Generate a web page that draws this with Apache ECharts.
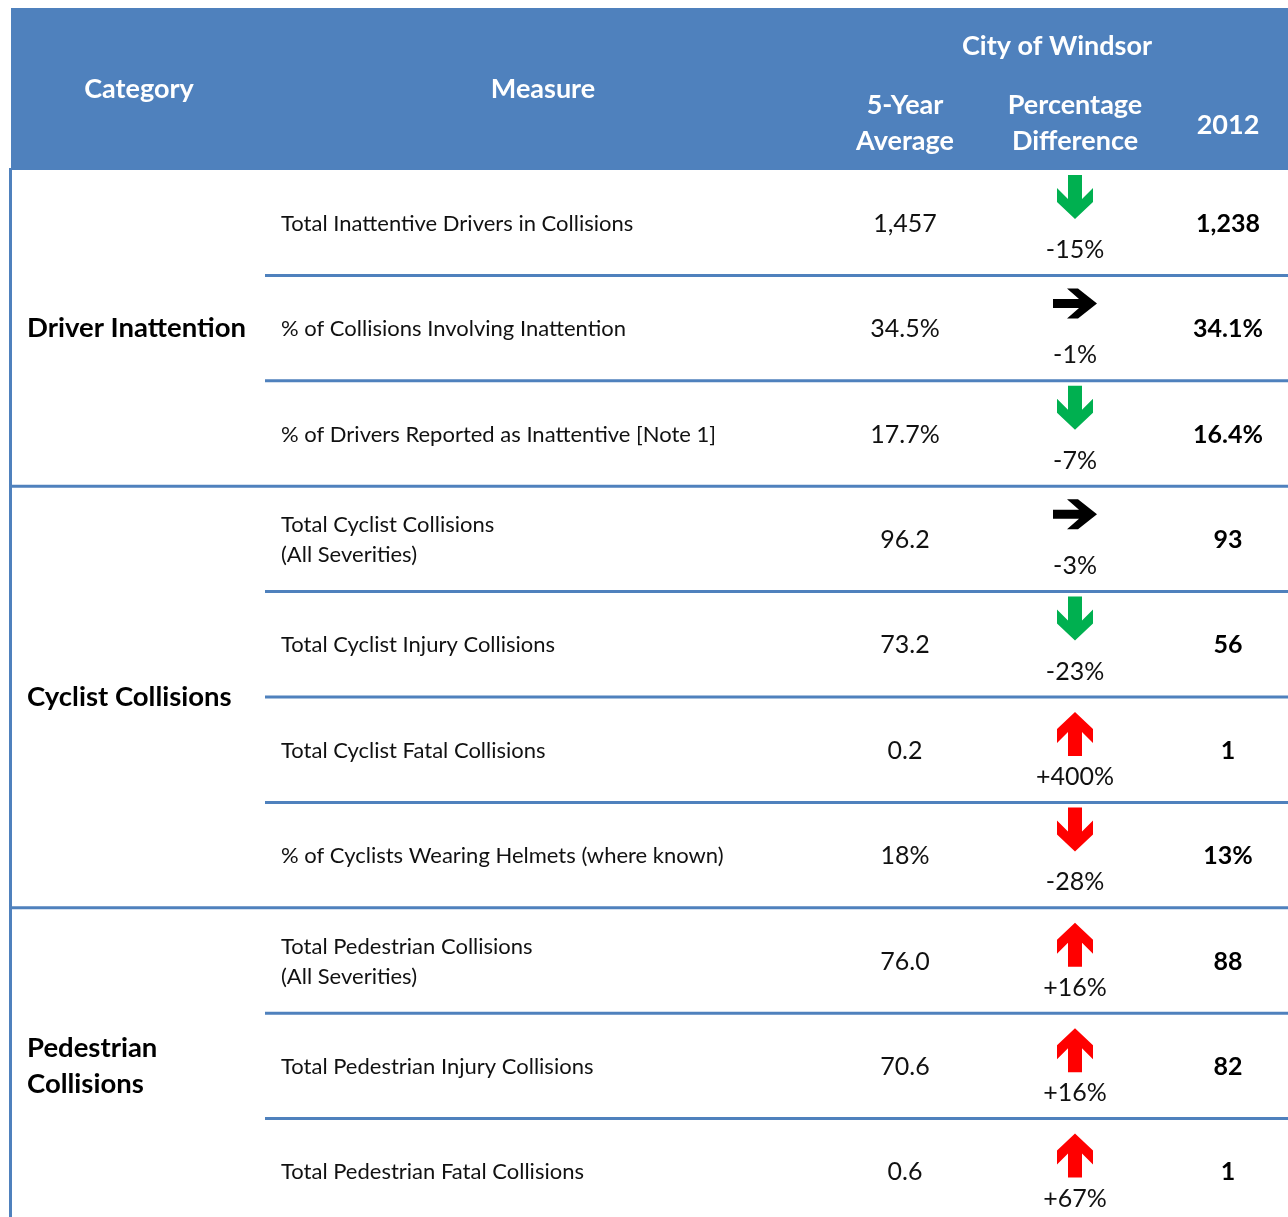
<!DOCTYPE html>
<html>
<head>
<meta charset="utf-8">
<script src="https://cdn.jsdelivr.net/npm/echarts@6/dist/echarts.min.js"></script>
<style>
  html, body { margin: 0; padding: 0; background: #fff; }
  #chart { width: 1288px; height: 1217px; }
</style>
</head>
<body>
<div id="chart"></div>
<script>
// ---------------- DATA ----------------
const categories = ['Driver Inattention', 'Cyclist Collisions', 'Pedestrian\nCollisions'];
const categoryRowCounts = [3, 4, 3];
const measures = [
  'Total Inattentive Drivers in Collisions',
  '% of Collisions Involving Inattention',
  '% of Drivers Reported as Inattentive [Note 1]',
  'Total Cyclist Collisions\n(All Severities)',
  'Total Cyclist Injury Collisions',
  'Total Cyclist Fatal Collisions',
  '% of Cyclists Wearing Helmets (where known)',
  'Total Pedestrian Collisions\n(All Severities)',
  'Total Pedestrian Injury Collisions',
  'Total Pedestrian Fatal Collisions'
];
const fiveYearAverage = [1457, 34.5, 17.7, 96.2, 73.2, 0.2, 18, 76.0, 70.6, 0.6];
const fiveYearDecimals = [0, 1, 1, 1, 1, 1, 0, 1, 1, 1];
const value2012 = [1238, 34.1, 16.4, 93, 56, 1, 13, 88, 82, 1];
const value2012Decimals = [0, 1, 1, 0, 0, 0, 0, 0, 0, 0];
const isPercentMeasure = [false, true, true, false, false, false, true, false, false, false];
const percentDifference = [-15, -1, -7, -3, -23, 400, -28, 16, 16, 67];
const higherIsBetter = [false, false, false, false, false, false, true, false, false, false];
const headerTitle = 'City of Windsor';
const columnHeaders = ['Category', 'Measure', '5-Year\nAverage', 'Percentage\nDifference', '2012'];

// ---------------- HELPERS ----------------
const FONT = 'Lato, "Noto Sans", sans-serif';
const BLUE = '#4F81BD';
const TABLE_TOP = 170, ROW_H = 105.4, CANVAS_H = 1217;
function fmt(v, dec, pct) {
  const s = v.toLocaleString('en-US', { minimumFractionDigits: dec, maximumFractionDigits: dec });
  return pct ? s + '%' : s;
}
function fmtDiff(v) { return (v > 0 ? '+' : '') + v + '%'; }
function trendOf(i) {
  const d = percentDifference[i];
  if (Math.abs(d) <= 3) return { dir: 'flat', color: '#000000' };
  const better = higherIsBetter[i] ? d > 0 : d < 0;
  return { dir: d > 0 ? 'up' : 'down', color: better ? '#00B050' : '#FF0000' };
}
const groups = [];
let acc = 0;
categoryRowCounts.forEach((n, g) => { groups.push([acc, acc + n, g]); acc += n; });
const lastRowOfGroup = new Set(groups.map(g => g[1] - 1));

const rowData = measures.map((m, i) => [0, i]);
const groupData = groups.map(g => [0, g[0], g[1], g[2]]);

const COL = { catX: 27, measX: 281, avgX: 905, pctX: 1075, y12X: 1228, sepFrom: 265, left: 10.5, right: 1288 };

function arrowShape(dir, cx, top) {
  const base = [[-7,0],[7,0],[7,24],[18,13],[18,27],[0,44],[-18,27],[-18,13],[-7,24]];
  if (dir === 'down') return base.map(p => [cx + p[0], top + 5 + p[1]]);
  if (dir === 'up') return base.map(p => [cx + p[0], top + 15 + 44 - p[1]]);
  const cy = top + 28;
  return [[-22,-4.5],[4,-4.5],[-8,-15],[3,-15],[22,0],[3,15],[-8,15],[4,4.5],[-22,4.5]].map(p => [cx + p[0], cy + p[1]]);
}

function renderRow(params, api) {
  const i = api.value(1);
  const top = api.coord([0, i])[1];
  const bottom = api.coord([0, i + 1])[1];
  const mid = (top + bottom) / 2;
  const x = v => api.coord([v, i])[0];
  const t = trendOf(i);
  const children = [
    { type: 'text', style: { x: x(COL.measX), y: mid + 1, text: measures[i], textAlign: 'left', textVerticalAlign: 'middle',
        font: '22px ' + FONT, fill: '#111', lineHeight: 30 } },
    { type: 'text', style: { x: x(COL.avgX), y: mid + 1, text: fmt(fiveYearAverage[i], fiveYearDecimals[i], isPercentMeasure[i]),
        textAlign: 'center', textVerticalAlign: 'middle', font: '25px ' + FONT, fill: '#111' } },
    { type: 'polygon', shape: { points: arrowShape(t.dir, x(COL.pctX), top) }, style: { fill: t.color } },
    { type: 'text', style: { x: x(COL.pctX), y: top + 80, text: fmtDiff(percentDifference[i]),
        textAlign: 'center', textVerticalAlign: 'middle', font: '25px ' + FONT, fill: '#111' } },
    { type: 'text', style: { x: x(COL.y12X), y: mid + 1, text: fmt(value2012[i], value2012Decimals[i], isPercentMeasure[i]),
        textAlign: 'center', textVerticalAlign: 'middle', font: 'bold 25px ' + FONT, fill: '#000' } }
  ];
  if (i < measures.length - 1) {
    const from = lastRowOfGroup.has(i) ? COL.left : COL.sepFrom;
    children.push({ type: 'line', shape: { x1: x(from), y1: bottom, x2: x(COL.right), y2: bottom },
      style: { stroke: BLUE, lineWidth: 3 } });
  }
  return { type: 'group', children };
}

function renderGroup(params, api) {
  const s = api.value(1), e = api.value(2), g = api.value(3);
  const top = api.coord([0, s])[1];
  const bottom = api.coord([0, e])[1];
  return { type: 'group', children: [
    { type: 'text', style: { x: api.coord([COL.catX, s])[0], y: (top + bottom) / 2, text: categories[g],
        textAlign: 'left', textVerticalAlign: 'middle', font: 'bold 27.5px ' + FONT, fill: '#000', lineHeight: 36 } },
    { type: 'line', shape: { x1: api.coord([COL.left, s])[0], y1: top - 2, x2: api.coord([COL.left, s])[0], y2: bottom },
        style: { stroke: BLUE, lineWidth: 3 } }
  ]};
}

const chart = echarts.init(document.getElementById('chart'), null, { renderer: 'canvas' });
const headerTextStyle = { fill: '#fff', font: 'bold 27px ' + FONT, textAlign: 'center', textVerticalAlign: 'middle', lineHeight: 36 };
const gridH = CANVAS_H - TABLE_TOP;
chart.setOption({
  animation: false,
  grid: { left: 0, top: TABLE_TOP, width: 1288, height: gridH },
  xAxis: { type: 'value', min: 0, max: 1288, show: false },
  yAxis: { type: 'value', min: 0, max: gridH / ROW_H, inverse: true, show: false },
  graphic: [
    { type: 'rect', left: 11, top: 8, shape: { width: 1277, height: 162 }, style: { fill: BLUE }, silent: true },
    { type: 'text', x: 139, y: 89, style: Object.assign({ text: columnHeaders[0] }, headerTextStyle) },
    { type: 'text', x: 543, y: 89, style: Object.assign({ text: columnHeaders[1] }, headerTextStyle) },
    { type: 'text', x: 1057, y: 46, style: Object.assign({ text: headerTitle }, headerTextStyle) },
    { type: 'text', x: 905, y: 123, style: Object.assign({ text: columnHeaders[2] }, headerTextStyle) },
    { type: 'text', x: 1075, y: 123, style: Object.assign({ text: columnHeaders[3] }, headerTextStyle) },
    { type: 'text', x: 1228, y: 125, style: Object.assign({ text: columnHeaders[4] }, headerTextStyle) }
  ],
  series: [
    { type: 'custom', name: 'rows', data: rowData, encode: { x: 0, y: 1 }, renderItem: renderRow, clip: false, silent: true },
    { type: 'custom', name: 'groups', data: groupData, encode: { x: 0, y: 1 }, renderItem: renderGroup, clip: false, silent: true }
  ]
});
</script>
</body>
</html>
